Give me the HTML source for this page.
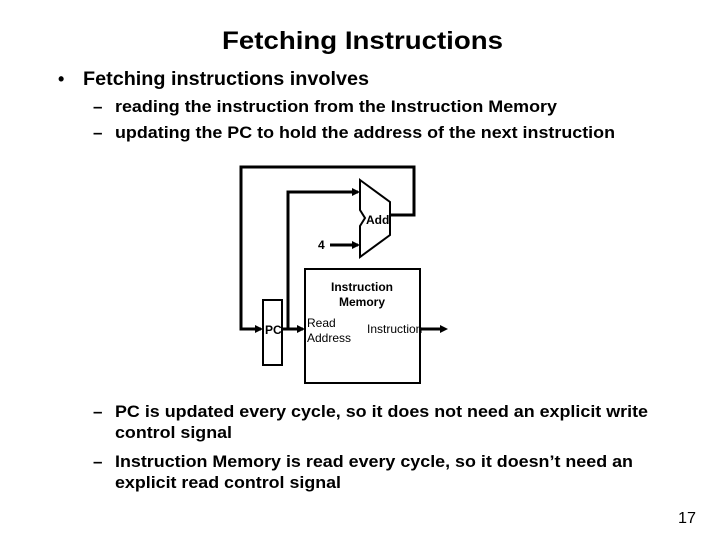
<!DOCTYPE html>
<html><head><meta charset="utf-8"><style>
html,body{margin:0;padding:0;background:#fff;}
svg{display:block;font-family:"Liberation Sans",Arial,sans-serif;}
</style></head><body>
<svg width="720" height="540" viewBox="0 0 720 540" xmlns="http://www.w3.org/2000/svg">
<defs><marker id="a" markerWidth="8" markerHeight="8" refX="7" refY="4" orient="auto" markerUnits="userSpaceOnUse"><path d="M0,0 L8,4 L0,8 z" fill="#000"/></marker></defs>
<g font-weight="bold" fill="#000">
<text x="222" y="49" font-size="25" textLength="281" lengthAdjust="spacingAndGlyphs">Fetching Instructions</text>
<text x="58" y="85" font-size="18">•</text>
<text x="83" y="85" font-size="19" textLength="286" lengthAdjust="spacingAndGlyphs">Fetching instructions involves</text>
<text x="93" y="112" font-size="17">–</text>
<text x="115" y="112" font-size="17" textLength="442" lengthAdjust="spacingAndGlyphs">reading the instruction from the Instruction Memory</text>
<text x="93" y="138" font-size="17">–</text>
<text x="115" y="138" font-size="17" textLength="500" lengthAdjust="spacingAndGlyphs">updating the PC to hold the address of the next instruction</text>
<text x="93" y="417" font-size="17">–</text>
<text x="115" y="417" font-size="17" textLength="533" lengthAdjust="spacingAndGlyphs">PC is updated every cycle, so it does not need an explicit write</text>
<text x="115" y="438" font-size="17" textLength="117" lengthAdjust="spacingAndGlyphs">control signal</text>
<text x="93" y="467" font-size="17">–</text>
<text x="115" y="467" font-size="17" textLength="518" lengthAdjust="spacingAndGlyphs">Instruction Memory is read every cycle, so it doesn’t need an</text>
<text x="115" y="488" font-size="17" textLength="226" lengthAdjust="spacingAndGlyphs">explicit read control signal</text>
<text x="678" y="523" font-size="16" font-weight="normal" textLength="18" lengthAdjust="spacingAndGlyphs">17</text>
</g>
<g stroke="#000" fill="none" stroke-width="3">
<polyline points="390,215 414,215 414,167 241,167 241,329 261,329"/>
<polyline points="282,329 303,329"/>
<polyline points="288,329 288,192 358,192"/>
<line x1="330" y1="245" x2="358" y2="245"/>
<line x1="420" y1="329" x2="445" y2="329"/>
</g>
<g fill="#000">
<path d="M255,325 L263,329 L255,333 z"/>
<path d="M297,325 L305,329 L297,333 z"/>
<path d="M352,188 L360,192 L352,196 z"/>
<path d="M352,241 L360,245 L352,249 z"/>
<path d="M440,325 L448,329 L440,333 z"/>
</g>
<g stroke="#000" fill="#fff" stroke-width="2">
<path d="M360,180 L390,202 L390,235 L360,257 L360,226 L365,218 L360,210 Z"/>
<rect x="263" y="300" width="19" height="65"/>
<rect x="305" y="269" width="115" height="114"/>
</g>
<g font-size="12" fill="#000">
<text x="366" y="224" font-weight="bold">Add</text>
<text x="318" y="249" font-weight="bold">4</text>
<text x="362" y="291" text-anchor="middle" font-weight="bold">Instruction</text>
<text x="362" y="306" text-anchor="middle" font-weight="bold">Memory</text>
<text x="265" y="334" font-weight="bold">PC</text>
<text x="307" y="327">Read</text>
<text x="307" y="342">Address</text>
<text x="367" y="333">Instruction</text>
</g>
</svg>
</body></html>
